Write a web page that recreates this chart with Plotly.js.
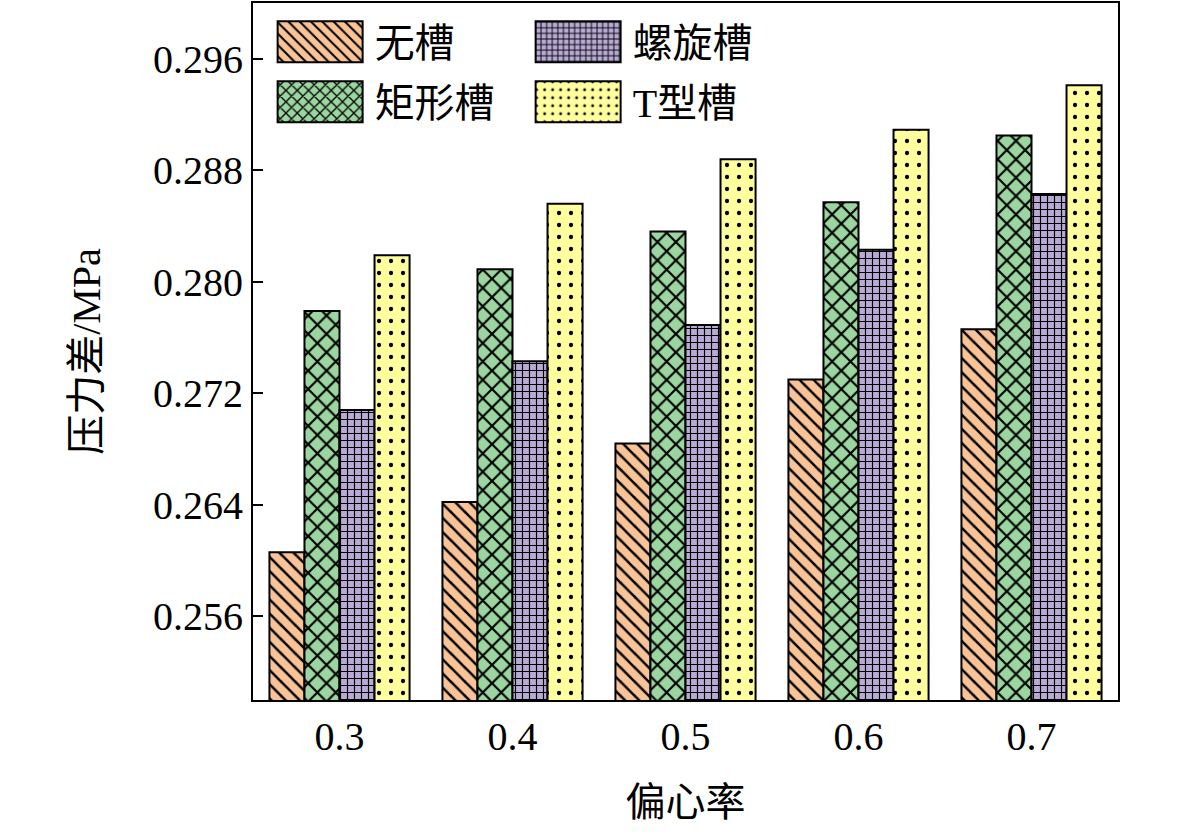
<!DOCTYPE html>
<html>
<head>
<meta charset="utf-8">
<script src="https://cdn.plot.ly/plotly-3.0.1.min.js"></script>
<style>html,body{margin:0;padding:0;background:#fff;}#chart{width:1181px;height:834px;}</style>
</head>
<body>
<div id="chart"></div>
<script>
const categories = ['0.3', '0.4', '0.5', '0.6', '0.7'];
const seriesNames = ['无槽', '矩形槽', '螺旋槽', 'T型槽'];
const noGroove = [0.2606, 0.2642, 0.2684, 0.2730, 0.2766];
const rectGroove = [0.2779, 0.2809, 0.2836, 0.2857, 0.2905];
const spiralGroove = [0.2708, 0.2743, 0.2769, 0.2823, 0.2863];
const tGroove = [0.2819, 0.2856, 0.2888, 0.2909, 0.2941];
const yTicks = [0.256, 0.264, 0.272, 0.280, 0.288, 0.296];
const legendOrder = ['无槽', '螺旋槽', '矩形槽', 'T型槽'];
const xTitle = '偏心率';
const yTitle = '压力差/MPa';

const FONT = '"Liberation Serif", "Times New Roman", "Noto Sans CJK SC", serif';
const styles = [
  {color: '#F8C396', shape: '\\', size: 10, solidity: 0.25},
  {color: '#9BD5A0', shape: 'x', size: 13, solidity: 0.3},
  {color: '#B8AAD4', shape: '+', size: 7, solidity: 0.3},
  {color: '#FFFF9E', shape: '.', size: 12, solidity: 0.1}
];
const values = [noGroove, rectGroove, spiralGroove, tGroove];

const traces = values.map((v, i) => ({
  type: 'bar',
  name: seriesNames[i],
  x: categories,
  y: v,
  legendrank: legendOrder.indexOf(seriesNames[i]) + 1,
  marker: {
    color: styles[i].color,
    line: {color: '#000', width: 2},
    pattern: {shape: styles[i].shape, size: styles[i].size, solidity: styles[i].solidity,
              fgcolor: '#000', bgcolor: styles[i].color, fillmode: 'replace'}
  }
}));

const layout = {
  width: 1181, height: 834,
  margin: {l: 253, r: 63, t: 3, b: 134},
  paper_bgcolor: '#fff', plot_bgcolor: '#fff',
  font: {family: FONT, size: 40, color: '#000'},
  barmode: 'group',
  bargap: 0.19,
  bargroupgap: 0,
  showlegend: true,
  legend: {
    orientation: 'h',
    x: 0.025, y: 0.991, xanchor: 'left', yanchor: 'top',
    entrywidth: 154, entrywidthmode: 'pixels',
    itemwidth: 90,
    bgcolor: 'rgba(0,0,0,0)',
    font: {family: FONT, size: 40, color: '#000'},
    traceorder: 'normal'
  },
  xaxis: {
    type: 'category',
    range: [-0.5, 4.5],
    showline: true, linecolor: '#000', linewidth: 2, mirror: true,
    ticks: '', showgrid: false, zeroline: false,
    tickfont: {family: FONT, size: 40, color: '#000'},
    title: {text: xTitle, font: {family: FONT, size: 40, color: '#000'}, standoff: 30}
  },
  yaxis: {
    range: [0.25, 0.3],
    tickvals: yTicks,
    ticktext: yTicks.map(t => t.toFixed(3)),
    ticks: 'inside', ticklen: 10, tickwidth: 2, tickcolor: '#000',
    showline: true, linecolor: '#000', linewidth: 2, mirror: true,
    showgrid: false, zeroline: false,
    tickfont: {family: FONT, size: 40, color: '#000'},
    title: {text: yTitle, font: {family: FONT, size: 40, color: '#000'}, standoff: 40}
  }
};

function parseTr(el) {
  const t = el.getAttribute('transform') || '';
  const m = t.match(/translate\(\s*([-\d.]+)[ ,]+([-\d.]+)\s*\)/);
  return m ? [parseFloat(m[1]), parseFloat(m[2])] : [0, 0];
}

function fixLegend() {
  const gd = document.getElementById('chart');
  const items = Array.from(gd.querySelectorAll('g.legend g.traces'));
  if (!items.length) return;
  let base = null;
  items.forEach(tr => {
    const txt = tr.querySelector('text.legendtext');
    const p = tr.querySelector('g.legendpoints path');
    if (!txt || !p) return;
    if (!tr.dataset.orig) tr.dataset.orig = JSON.stringify(parseTr(tr));
    const orig = JSON.parse(tr.dataset.orig);
    if (base === null || orig[1] < base[1] || (orig[1] === base[1] && orig[0] < base[0])) base = orig;
  });
  items.forEach(tr => {
    const txt = tr.querySelector('text.legendtext');
    const p = tr.querySelector('g.legendpoints path');
    if (!txt || !p) return;
    if (!p.dataset.fixed) {
      const tx = parseFloat(txt.getAttribute('x')) || 0;
      let off = 0, offy = 0;
      try {
        const m1 = tr.getCTM();
        const m2 = p.parentNode.getCTM();
        off = m2.e - m1.e; offy = m2.f - m1.f;
      } catch (e) {}
      const x1 = tx - 12 - off, x0 = x1 - 85;
      p.setAttribute('transform', '');
      p.setAttribute('d', 'M' + x0 + ',' + (-20.5 - offy) + 'H' + x1 + 'V' + (20.5 - offy) + 'H' + x0 + 'Z');
      p.style.strokeWidth = '2px';
      p.dataset.fixed = '1';
    }
    const idx = legendOrder.indexOf(txt.textContent.trim());
    if (idx < 0 || !base) return;
    const col = idx % 2, row = Math.floor(idx / 2);
    tr.setAttribute('transform', 'translate(' + (base[0] + col * 258) + ',' + (base[1] + row * 60) + ')');
  });
}

const gdEl = document.getElementById('chart');
Plotly.newPlot(gdEl, traces, layout, {displayModeBar: false, staticPlot: true}).then(() => {
  fixLegend();
  gdEl.on && gdEl.on('plotly_afterplot', fixLegend);
  setTimeout(fixLegend, 200);
  setTimeout(fixLegend, 800);
});
</script>
</body>
</html>
